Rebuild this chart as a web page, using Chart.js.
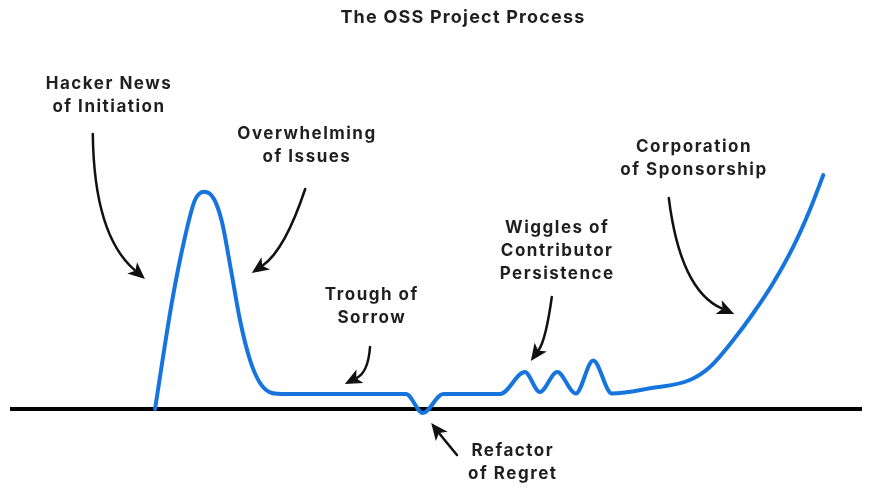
<!DOCTYPE html>
<html>
<head>
<meta charset="utf-8">
<script src="https://cdn.jsdelivr.net/npm/chart.js@4/dist/chart.umd.min.js"></script>
<style>
  html, body { margin: 0; padding: 0; background: #ffffff; }
  #wrap { width: 874px; height: 493px; }
</style>
</head>
<body>
<div id="wrap"><canvas id="c" width="874" height="493"></canvas></div>
<script>
// ---- data (time vs. "interest" in arbitrary units) ----
const timeValues = [24.17, 26.95, 29.17, 30.83, 32.38, 34.0, 35.33, 36.83, 38.33, 40.0, 41.67, 43.67, 45.83,
                    66.0, 68.8, 72.2, 81.7, 85.8, 88.3, 91.2, 94.3, 97.2, 100.3,
                    106.7, 113.3, 116.7, 120.55, 123.9, 127.2, 130.55, 133.3, 135.55];
const interestValues = [0, 52.85, 86.15, 104.5, 108.65, 105.0, 93.5, 69.5, 44.5, 24.5, 13.0, 8.0, 7.5,
                        7.5, -2.0, 7.5, 7.5, 18.5, 8.5, 18.5, 7.75, 24.25, 7.7,
                        10.35, 14.5, 21.15, 34.5, 48.0, 63.0, 81.15, 99.5, 117.0];
const baselineTime = [0, 142];
const baselineValues = [0, 0];
const titleText = 'The OSS Project Process';

// ---- annotation labels (text lines) and arrows, placed in data units ----
const labelTexts = [
  ['Hacker News', 'of Initiation'],
  ['Overwhelming', 'of Issues'],
  ['Trough of', 'Sorrow'],
  ['Refactor', 'of Regret'],
  ['Wiggles of', 'Contributor', 'Persistence'],
  ['Corporation', 'of Sponsorship']
];
const labelAnchors = [[16.5, 162.5], [49.5, 137.5], [60.3, 57.0], [83.8, -21.0], [91.2, 90.5], [114.0, 131.0]];
const arrowPaths = [
  [[13.8, 137.5], [14.0, 87.0], [22.5, 65.0]],
  [[49.2, 110.0], [45.8, 79.5], [40.3, 68.0]],
  [[60.0, 31.0], [59.7, 18.5], [55.8, 12.5]],
  [[74.5, -23.0], [72.3, -15.0], [70.2, -7.0]],
  [[90.3, 56.0], [89.3, 34.5], [86.8, 24.0]],
  [[109.8, 105.5], [111.7, 59.5], [120.7, 47.5]]
];

const curvePoints = timeValues.map((t, i) => ({ x: t, y: interestValues[i] }));
const basePoints = baselineTime.map((t, i) => ({ x: t, y: baselineValues[i] }));

const spacingPlugin = {
  id: 'titleSpacing',
  beforeDraw(chart) {
    if ('letterSpacing' in chart.ctx) chart.ctx.letterSpacing = '1.2px';
  }
};

const annotationPlugin = {
  id: 'ossAnnotations',
  afterDatasetsDraw(chart) {
    const ctx = chart.ctx;
    const xs = chart.scales.x, ys = chart.scales.y;
    const px = v => xs.getPixelForValue(v);
    const py = v => ys.getPixelForValue(v);
    ctx.save();
    ctx.fillStyle = '#1f1f1f';
    ctx.font = '700 17px Inter, "Open Sans", sans-serif';
    ctx.textAlign = 'center';
    ctx.textBaseline = 'middle';
    if ('letterSpacing' in ctx) ctx.letterSpacing = '1.5px';
    labelTexts.forEach((lines, i) => {
      const cx = px(labelAnchors[i][0]);
      const cy = py(labelAnchors[i][1]);
      lines.forEach((ln, j) => ctx.fillText(ln, cx, cy + j * 23));
    });
    ctx.strokeStyle = '#111';
    ctx.fillStyle = '#111';
    ctx.lineWidth = 2.5;
    ctx.lineCap = 'round';
    arrowPaths.forEach(p => {
      const s = [px(p[0][0]), py(p[0][1])];
      const c = [px(p[1][0]), py(p[1][1])];
      const e = [px(p[2][0]), py(p[2][1])];
      const ang = Math.atan2(e[1] - c[1], e[0] - c[0]);
      const L = 17, W = 7.5;
      const bx = e[0] - L * 0.8 * Math.cos(ang), by = e[1] - L * 0.8 * Math.sin(ang);
      ctx.beginPath();
      ctx.moveTo(s[0], s[1]);
      ctx.quadraticCurveTo(c[0], c[1], bx, by);
      ctx.stroke();
      ctx.beginPath();
      ctx.moveTo(e[0], e[1]);
      ctx.lineTo(e[0] - L * Math.cos(ang) + W * Math.sin(ang), e[1] - L * Math.sin(ang) - W * Math.cos(ang));
      ctx.lineTo(e[0] - L * 0.75 * Math.cos(ang), e[1] - L * 0.75 * Math.sin(ang));
      ctx.lineTo(e[0] - L * Math.cos(ang) - W * Math.sin(ang), e[1] - L * Math.sin(ang) + W * Math.cos(ang));
      ctx.closePath();
      ctx.fill();
    });
    ctx.restore();
  }
};

new Chart(document.getElementById('c'), {
  type: 'line',
  data: {
    datasets: [
      {
        label: 'Project interest',
        data: curvePoints,
        borderColor: '#1574de',
        borderWidth: 4,
        pointRadius: 0,
        cubicInterpolationMode: 'monotone',
        borderCapStyle: 'round',
        borderJoinStyle: 'round',
        fill: false,
        order: 0
      },
      {
        label: 'Baseline',
        data: basePoints,
        borderColor: '#000000',
        borderWidth: 4,
        pointRadius: 0,
        tension: 0,
        fill: false,
        clip: false,
        order: 1
      }
    ]
  },
  options: {
    responsive: false,
    animation: false,
    events: [],
    layout: { autoPadding: false, padding: { left: 64, right: 12, top: 0, bottom: 52 } },
    scales: {
      x: { type: 'linear', min: 9, max: 142, display: false },
      y: { type: 'linear', min: -16, max: 188.5, display: false }
    },
    plugins: {
      legend: { display: false },
      tooltip: { enabled: false },
      title: {
        display: true,
        text: titleText,
        color: '#1f1f1f',
        font: { family: 'Inter, "Open Sans", sans-serif', size: 18, weight: '700' },
        padding: { top: 6.4, bottom: 4 }
      }
    }
  },
  plugins: [spacingPlugin, annotationPlugin]
});
</script>
</body>
</html>
